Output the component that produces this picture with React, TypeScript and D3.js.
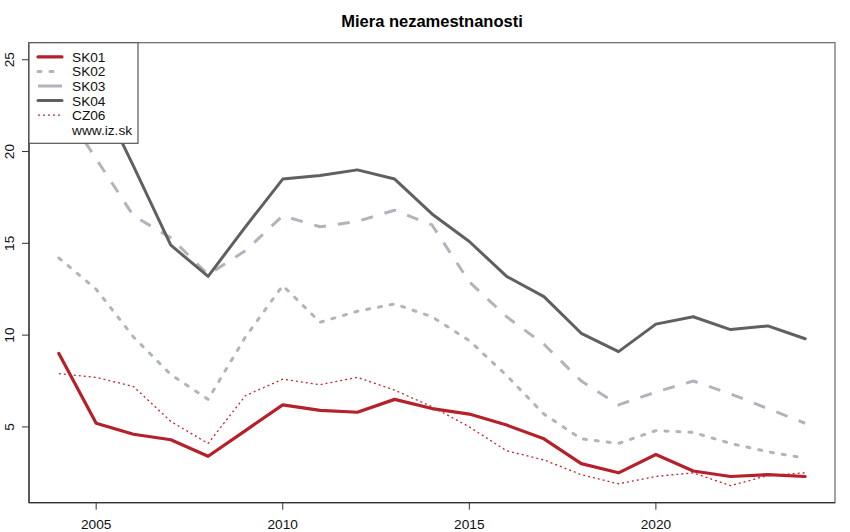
import * as d3 from 'd3'
import { useEffect, useRef } from 'react'

const years = d3.range(2004, 2025)
const seriesNames = ['SK01', 'SK02', 'SK03', 'SK04', 'CZ06']
const sk01 = [9.0, 5.2, 4.6, 4.3, 3.4, 4.8, 6.2, 5.9, 5.8, 6.5, 6.0, 5.7, 5.1, 4.35, 3.0, 2.5, 3.5, 2.6, 2.3, 2.4, 2.3]
const sk02 = [14.2, 12.5, 9.9, 7.85, 6.5, 9.9, 12.7, 10.7, 11.3, 11.7, 11.0, 9.7, 7.8, 5.7, 4.35, 4.1, 4.8, 4.7, 4.1, 3.65, 3.3]
const sk03 = [22.7, 19.6, 16.5, 15.3, 13.3, 14.6, 16.5, 15.9, 16.2, 16.8, 16.0, 12.9, 11.0, 9.5, 7.5, 6.2, 6.9, 7.5, 6.8, 6.0, 5.2]
const sk04 = [25.0, 23.4, 19.2, 14.9, 13.2, 15.9, 18.5, 18.7, 19.0, 18.5, 16.6, 15.1, 13.2, 12.1, 10.1, 9.1, 10.6, 11.0, 10.3, 10.5, 9.8]
const cz06 = [7.9, 7.7, 7.2, 5.3, 4.1, 6.7, 7.6, 7.3, 7.7, 7.0, 6.1, 5.0, 3.7, 3.2, 2.4, 1.9, 2.3, 2.5, 1.8, 2.35, 2.5]
const xTicks = [2005, 2010, 2015, 2020]
const yTicks = [5, 10, 15, 20, 25]
const title = 'Miera nezamestnanosti'
const legendExtra = 'www.iz.sk'

// styles per series (same order as seriesNames)
const styles = [
    { color: '#b5202a', width: 3.2, dash: null, cap: 'round', legendDash: null },
    { color: '#b0b5bd', width: 3, dash: '3,9', cap: 'round', legendDash: '3,9' },
    { color: '#b0b5bd', width: 3, dash: '12,12', cap: 'butt', legendDash: null },
    { color: '#606060', width: 3, dash: null, cap: 'round', legendDash: null },
    { color: '#c0282e', width: 1.3, dash: '2,3', cap: 'butt', legendDash: '2,3' },
]

const font = 'Liberation Sans, Arial, Helvetica, sans-serif'

function App() {
    const ref = useRef(null)

    useEffect(() => {
        const values = [sk01, sk02, sk03, sk04, cz06]
        const left = 29
        const right = 835
        const top = 42.7
        const bottom = 502.7

        const xExt = d3.extent(years)
        const xPad = (xExt[1] - xExt[0]) * 0.04
        const yExt = d3.extent(values.flat())
        const yPad = (yExt[1] - yExt[0]) * 0.04

        const x = d3
            .scaleLinear()
            .domain([xExt[0] - xPad, xExt[1] + xPad])
            .range([left, right])
        const y = d3
            .scaleLinear()
            .domain([yExt[0] - yPad, yExt[1] + yPad])
            .range([bottom, top])

        const svg = d3.select(ref.current)
        svg.selectAll('*').remove()

        svg.append('rect').attr('width', 850).attr('height', 532).attr('fill', '#fff')

        svg.append('clipPath')
            .attr('id', 'plotclip')
            .append('rect')
            .attr('x', left)
            .attr('y', top)
            .attr('width', right - left)
            .attr('height', bottom - top)

        const line = d3
            .line()
            .x((d, i) => x(years[i]))
            .y((d) => y(d))

        const lines = svg.append('g').attr('clip-path', 'url(#plotclip)')
        values.forEach((vals, k) => {
            const st = styles[k]
            lines
                .append('path')
                .datum(vals)
                .attr('d', line)
                .attr('fill', 'none')
                .attr('stroke', st.color)
                .attr('stroke-width', st.width)
                .attr('stroke-linejoin', 'round')
                .attr('stroke-linecap', st.cap)
                .attr('stroke-dasharray', st.dash)
        })

        // box
        svg.append('rect')
            .attr('x', left)
            .attr('y', top)
            .attr('width', right - left)
            .attr('height', bottom - top)
            .attr('fill', 'none')
            .attr('stroke', '#666')
            .attr('stroke-width', 1.2)

        // x axis
        const gx = svg.append('g')
        gx.append('line')
            .attr('x1', left)
            .attr('x2', right)
            .attr('y1', bottom)
            .attr('y2', bottom)
            .attr('stroke', '#333')
            .attr('stroke-width', 1.3)
        xTicks.forEach((t) => {
            gx.append('line')
                .attr('x1', x(t))
                .attr('x2', x(t))
                .attr('y1', bottom)
                .attr('y2', bottom + 7)
                .attr('stroke', '#333')
            gx.append('text')
                .attr('x', x(t))
                .attr('y', 529)
                .attr('text-anchor', 'middle')
                .attr('font-family', font)
                .attr('font-size', 13.7)
                .attr('fill', '#111')
                .text(t)
        })

        // y axis
        const gy = svg.append('g')
        gy.append('line')
            .attr('x1', left)
            .attr('x2', left)
            .attr('y1', top)
            .attr('y2', bottom)
            .attr('stroke', '#333')
            .attr('stroke-width', 1.3)
        yTicks.forEach((t) => {
            gy.append('line')
                .attr('x1', left - 7)
                .attr('x2', left)
                .attr('y1', y(t))
                .attr('y2', y(t))
                .attr('stroke', '#333')
            gy.append('text')
                .attr('transform', `translate(13.5, ${y(t)}) rotate(-90)`)
                .attr('text-anchor', 'middle')
                .attr('font-family', font)
                .attr('font-size', 13.7)
                .attr('fill', '#111')
                .text(t)
        })

        // title
        svg.append('text')
            .attr('x', (left + right) / 2)
            .attr('y', 27)
            .attr('text-anchor', 'middle')
            .attr('font-family', font)
            .attr('font-weight', 'bold')
            .attr('font-size', 16.5)
            .attr('fill', '#000')
            .text(title)

        // legend
        const legend = svg.append('g')
        legend
            .append('rect')
            .attr('x', left)
            .attr('y', top)
            .attr('width', 109)
            .attr('height', 100.6)
            .attr('fill', '#fff')
            .attr('stroke', '#555')
            .attr('stroke-width', 1.2)

        const labels = [...seriesNames, legendExtra]
        labels.forEach((name, k) => {
            const cy = 56.9 + k * 14.55
            const st = styles[k]
            if (st) {
                legend
                    .append('line')
                    .attr('x1', 38)
                    .attr('x2', 62)
                    .attr('y1', cy)
                    .attr('y2', cy)
                    .attr('stroke', st.color)
                    .attr('stroke-width', st.width)
                    .attr('stroke-linecap', st.cap)
                    .attr('stroke-dasharray', st.legendDash)
            }
            legend
                .append('text')
                .attr('x', 72)
                .attr('y', cy + 5)
                .attr('font-family', font)
                .attr('font-size', 13.7)
                .attr('fill', '#111')
                .text(name)
        })
    }, [])

    return <svg ref={ref} width={850} height={532} style={{ position: 'absolute', left: 0, top: 0 }} />
}

export default App
